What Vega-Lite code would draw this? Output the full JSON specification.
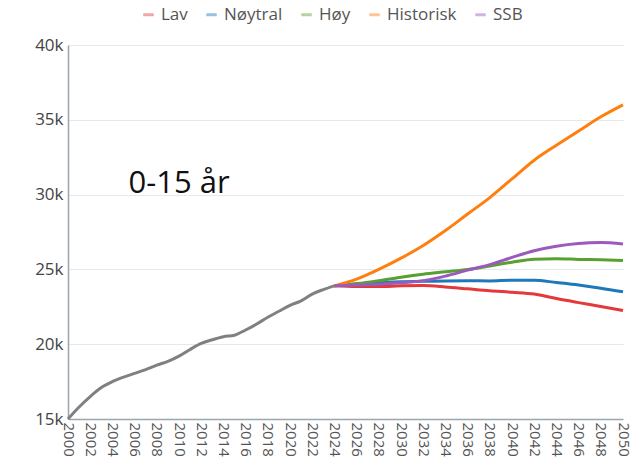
{
  "$schema": "https://vega.github.io/schema/vega-lite/v6.json",
  "width": 555,
  "height": 374,
  "autosize": {"type": "none"},
  "padding": {"left": 68, "top": 45, "right": 10, "bottom": 55},
  "config": {
    "view": {"stroke": null},
    "font": "Open Sans",
    "axis": {
      "domainColor": "#9aa5ad",
      "domainWidth": 1.5,
      "gridColor": "#e6e9ec",
      "gridWidth": 1,
      "ticks": false,
      "labelColor": "#444444",
      "labelFont": "Open Sans",
      "labelFontSize": 15,
      "title": null
    }
  },
  "datasets": {
    "pop": [
      {"year": 2000, "value": 15000, "series": "Registrert"},
      {"year": 2001, "value": 15800, "series": "Registrert"},
      {"year": 2002, "value": 16500, "series": "Registrert"},
      {"year": 2003, "value": 17100, "series": "Registrert"},
      {"year": 2004, "value": 17500, "series": "Registrert"},
      {"year": 2005, "value": 17800, "series": "Registrert"},
      {"year": 2006, "value": 18050, "series": "Registrert"},
      {"year": 2007, "value": 18300, "series": "Registrert"},
      {"year": 2008, "value": 18600, "series": "Registrert"},
      {"year": 2009, "value": 18850, "series": "Registrert"},
      {"year": 2010, "value": 19200, "series": "Registrert"},
      {"year": 2011, "value": 19650, "series": "Registrert"},
      {"year": 2012, "value": 20050, "series": "Registrert"},
      {"year": 2013, "value": 20300, "series": "Registrert"},
      {"year": 2014, "value": 20500, "series": "Registrert"},
      {"year": 2015, "value": 20600, "series": "Registrert"},
      {"year": 2016, "value": 20950, "series": "Registrert"},
      {"year": 2017, "value": 21350, "series": "Registrert"},
      {"year": 2018, "value": 21800, "series": "Registrert"},
      {"year": 2019, "value": 22200, "series": "Registrert"},
      {"year": 2020, "value": 22600, "series": "Registrert"},
      {"year": 2021, "value": 22900, "series": "Registrert"},
      {"year": 2022, "value": 23350, "series": "Registrert"},
      {"year": 2023, "value": 23650, "series": "Registrert"},
      {"year": 2024, "value": 23900, "series": "Registrert"},

      {"year": 2024, "value": 23900, "series": "Lav"},
      {"year": 2026, "value": 23850, "series": "Lav"},
      {"year": 2028, "value": 23850, "series": "Lav"},
      {"year": 2030, "value": 23900, "series": "Lav"},
      {"year": 2032, "value": 23920, "series": "Lav"},
      {"year": 2034, "value": 23830, "series": "Lav"},
      {"year": 2036, "value": 23700, "series": "Lav"},
      {"year": 2038, "value": 23570, "series": "Lav"},
      {"year": 2040, "value": 23470, "series": "Lav"},
      {"year": 2042, "value": 23350, "series": "Lav"},
      {"year": 2044, "value": 23050, "series": "Lav"},
      {"year": 2046, "value": 22780, "series": "Lav"},
      {"year": 2048, "value": 22520, "series": "Lav"},
      {"year": 2050, "value": 22250, "series": "Lav"},

      {"year": 2024, "value": 23900, "series": "Nøytral"},
      {"year": 2026, "value": 24000, "series": "Nøytral"},
      {"year": 2028, "value": 24100, "series": "Nøytral"},
      {"year": 2030, "value": 24180, "series": "Nøytral"},
      {"year": 2032, "value": 24200, "series": "Nøytral"},
      {"year": 2034, "value": 24230, "series": "Nøytral"},
      {"year": 2036, "value": 24240, "series": "Nøytral"},
      {"year": 2038, "value": 24230, "series": "Nøytral"},
      {"year": 2040, "value": 24280, "series": "Nøytral"},
      {"year": 2042, "value": 24280, "series": "Nøytral"},
      {"year": 2044, "value": 24120, "series": "Nøytral"},
      {"year": 2046, "value": 23950, "series": "Nøytral"},
      {"year": 2048, "value": 23740, "series": "Nøytral"},
      {"year": 2050, "value": 23500, "series": "Nøytral"},

      {"year": 2024, "value": 23900, "series": "Høy"},
      {"year": 2026, "value": 24050, "series": "Høy"},
      {"year": 2028, "value": 24250, "series": "Høy"},
      {"year": 2030, "value": 24480, "series": "Høy"},
      {"year": 2032, "value": 24680, "series": "Høy"},
      {"year": 2034, "value": 24840, "series": "Høy"},
      {"year": 2036, "value": 25000, "series": "Høy"},
      {"year": 2038, "value": 25230, "series": "Høy"},
      {"year": 2040, "value": 25480, "series": "Høy"},
      {"year": 2042, "value": 25680, "series": "Høy"},
      {"year": 2044, "value": 25710, "series": "Høy"},
      {"year": 2046, "value": 25670, "series": "Høy"},
      {"year": 2048, "value": 25640, "series": "Høy"},
      {"year": 2050, "value": 25600, "series": "Høy"},

      {"year": 2024, "value": 23900, "series": "Historisk"},
      {"year": 2026, "value": 24350, "series": "Historisk"},
      {"year": 2028, "value": 25000, "series": "Historisk"},
      {"year": 2030, "value": 25750, "series": "Historisk"},
      {"year": 2032, "value": 26600, "series": "Historisk"},
      {"year": 2034, "value": 27600, "series": "Historisk"},
      {"year": 2036, "value": 28700, "series": "Historisk"},
      {"year": 2038, "value": 29800, "series": "Historisk"},
      {"year": 2040, "value": 31050, "series": "Historisk"},
      {"year": 2042, "value": 32300, "series": "Historisk"},
      {"year": 2044, "value": 33300, "series": "Historisk"},
      {"year": 2046, "value": 34250, "series": "Historisk"},
      {"year": 2048, "value": 35200, "series": "Historisk"},
      {"year": 2050, "value": 36000, "series": "Historisk"},

      {"year": 2024, "value": 23900, "series": "SSB"},
      {"year": 2026, "value": 23950, "series": "SSB"},
      {"year": 2028, "value": 24000, "series": "SSB"},
      {"year": 2030, "value": 24100, "series": "SSB"},
      {"year": 2032, "value": 24250, "series": "SSB"},
      {"year": 2034, "value": 24550, "series": "SSB"},
      {"year": 2036, "value": 24950, "series": "SSB"},
      {"year": 2038, "value": 25320, "series": "SSB"},
      {"year": 2040, "value": 25800, "series": "SSB"},
      {"year": 2042, "value": 26250, "series": "SSB"},
      {"year": 2044, "value": 26550, "series": "SSB"},
      {"year": 2046, "value": 26730, "series": "SSB"},
      {"year": 2048, "value": 26790, "series": "SSB"},
      {"year": 2050, "value": 26700, "series": "SSB"}
    ],
    "notes": [
      {"year": 2010, "value": 30100, "label": "0-15 år"}
    ]
  },
  "encoding": {
    "x": {
      "field": "year",
      "type": "quantitative",
      "scale": {"domain": [2000, 2050], "nice": false, "zero": false},
      "axis": {
        "values": [2000, 2002, 2004, 2006, 2008, 2010, 2012, 2014, 2016, 2018, 2020, 2022, 2024, 2026, 2028, 2030, 2032, 2034, 2036, 2038, 2040, 2042, 2044, 2046, 2048, 2050],
        "format": "d",
        "labelAngle": 90,
        "labelAlign": "left",
        "labelBaseline": "middle",
        "labelPadding": 3,
        "labelOverlap": false,
        "labelFlush": false,
        "labelFontSize": 15,
        "labelColor": "#555555",
        "grid": false
      }
    },
    "y": {
      "field": "value",
      "type": "quantitative",
      "scale": {"domain": [15000, 40000], "nice": false, "zero": false},
      "axis": {
        "values": [15000, 20000, 25000, 30000, 35000, 40000],
        "format": "~s",
        "labelPadding": 5,
        "labelFontSize": 17,
        "grid": true
      }
    }
  },
  "layer": [
    {
      "data": {"name": "pop"},
      "transform": [{"filter": "datum.series === 'Registrert'"}],
      "mark": {"type": "line", "color": "#808080", "strokeWidth": 3, "interpolate": "monotone"}
    },
    {
      "data": {"name": "pop"},
      "transform": [{"filter": "datum.series !== 'Registrert'"}],
      "mark": {"type": "line", "strokeWidth": 3, "interpolate": "monotone"},
      "encoding": {
        "color": {
          "field": "series",
          "type": "nominal",
          "scale": {
            "domain": ["Lav", "Nøytral", "Høy", "Historisk", "SSB"],
            "range": ["#e5383b", "#1f78b9", "#58a030", "#ff7f0e", "#9a5bbd"]
          },
          "legend": {
            "title": null,
            "orient": "none",
            "direction": "horizontal",
            "legendX": 72,
            "legendY": -39,
            "symbolType": "stroke",
            "symbolStrokeWidth": 3,
            "symbolSize": 110,
            "symbolOpacity": 0.45,
            "labelFontSize": 17,
            "labelFont": "Open Sans",
            "labelColor": "#555555",
            "labelOffset": 4,
            "columnPadding": 12
          }
        }
      }
    },
    {
      "data": {"name": "notes"},
      "mark": {"type": "text", "fontSize": 31, "fontWeight": "normal", "font": "Open Sans", "color": "#111111", "align": "center", "baseline": "alphabetic"},
      "encoding": {
        "text": {"field": "label", "type": "nominal"}
      }
    }
  ]
}
